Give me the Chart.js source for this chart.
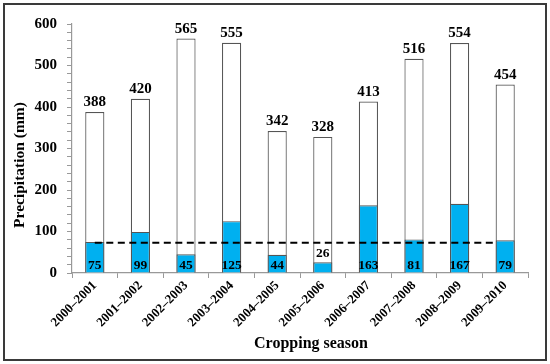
<!DOCTYPE html>
<html>
<head>
<meta charset="utf-8">
<script src="https://cdn.jsdelivr.net/npm/chart.js@4.4.1/dist/chart.umd.min.js"></script>
<style>
  html, body { margin: 0; padding: 0; background: #fff; }
  #wrap { position: relative; width: 550px; height: 364px; }
  #frame { position: absolute; left: 3px; top: 3px; width: 540px; height: 354px; border: 2px solid #3a3a3a; }
  canvas { position: absolute; left: 0; top: 0; }
</style>
</head>
<body>
<div id="wrap">
  <div id="frame"></div>
  <canvas id="chart" width="550" height="364"></canvas>
</div>
<script>
  "use strict";

  const seasons = ["2000\u20132001", "2001\u20132002", "2002\u20132003", "2003\u20132004", "2004\u20132005",
                   "2005\u20132006", "2006\u20132007", "2007\u20132008", "2008\u20132009", "2009\u20132010"];
  const totalRain = [388, 420, 565, 555, 342, 328, 413, 516, 554, 454];
  const seasonRain = [75, 99, 45, 125, 44, 26, 163, 81, 167, 79];
  // dashed reference level, drawn from the first season to the last one
  const thresholdValue = 73;
  const thresholdFrom = 0;
  const thresholdTo = 8.8;

  const FONT = "'Liberation Serif', 'Times New Roman', serif";
  const BLUE = "#00b0f0";

  // value labels: totals above bars, in-season values near the bottom
  const barLabels = {
    id: "barLabels",
    afterDatasetsDraw(chart) {
      const ctx = chart.ctx;
      const yScale = chart.scales.y;
      ctx.save();
      ctx.fillStyle = "#000";
      ctx.textAlign = "center";
      ctx.textBaseline = "alphabetic";

      ctx.font = "bold 15px " + FONT;
      chart.getDatasetMeta(0).data.forEach((bar, i) => {
        ctx.fillText(String(totalRain[i]), bar.x, bar.y - 6);
      });

      ctx.font = "bold 13.5px " + FONT;
      chart.getDatasetMeta(1).data.forEach((bar, i) => {
        const v = seasonRain[i];
        let y = yScale.getPixelForValue(0) - 4;
        if (v < 30) y = bar.y - 5;
        ctx.fillText(String(v), bar.x, y);
      });
      ctx.restore();
    }
  };

  // axis titles placed by hand, as in the source figure
  const axisTitles = {
    id: "axisTitles",
    afterDraw(chart) {
      const ctx = chart.ctx;
      ctx.save();
      ctx.fillStyle = "#000";
      ctx.textAlign = "center";
      ctx.textBaseline = "middle";

      ctx.font = "bold 16px " + FONT;
      ctx.fillText("Cropping season", 311, 344);

      ctx.font = "bold 15.5px " + FONT;
      ctx.translate(20, 165);
      ctx.rotate(-Math.PI / 2);
      ctx.fillText("Precipitation (mm)", 0, 0);
      ctx.restore();
    }
  };

  function init() {
    const canvas = document.getElementById("chart");
    if (!canvas || typeof Chart === "undefined") return;

    new Chart(canvas.getContext("2d"), {
      type: "bar",
      data: {
        labels: seasons,
        datasets: [
          {
            label: "Total",
            data: totalRain,
            xAxisID: "x",
            grouped: false,
            backgroundColor: "#ffffff",
            borderColor: "#555555",
            borderWidth: 1.2,
            barPercentage: 0.42,
            categoryPercentage: 1,
            order: 3
          },
          {
            label: "In season",
            data: seasonRain,
            xAxisID: "x",
            grouped: false,
            backgroundColor: BLUE,
            borderColor: "#555555",
            borderWidth: 1.2,
            barPercentage: 0.42,
            categoryPercentage: 1,
            order: 2
          },
          {
            type: "line",
            label: "Threshold",
            xAxisID: "xLine",
            data: [
              { x: thresholdFrom, y: thresholdValue },
              { x: thresholdTo, y: thresholdValue }
            ],
            borderColor: "#000",
            borderWidth: 2,
            borderDash: [7, 4.5],
            pointRadius: 0,
            fill: false,
            order: 1
          }
        ]
      },
      options: {
        responsive: false,
        animation: false,
        devicePixelRatio: 1,
        layout: { padding: { left: 8, right: 22, top: 24, bottom: 10 } },
        plugins: {
          legend: { display: false },
          tooltip: { enabled: false }
        },
        scales: {
          x: {
            type: "category",
            grid: { display: true, drawOnChartArea: false, drawTicks: true, tickLength: 5, color: "#999", offset: true },
            border: { display: true, color: "#999", width: 1.2 },
            ticks: {
              color: "#000",
              font: { family: FONT, size: 13, weight: "bold" },
              minRotation: 45,
              maxRotation: 45,
              autoSkip: false,
              padding: 0
            },
            afterFit(scale) { scale.height = 81; }
          },
          xLine: {
            type: "linear",
            position: "bottom",
            display: false,
            offset: false,
            min: -0.5,
            max: 9.5
          },
          y: {
            stacked: false,
            min: 0,
            max: 600,
            grid: { display: true, drawOnChartArea: false, drawTicks: true, tickLength: 5, color: "#999" },
            border: { display: true, color: "#999", width: 1.2 },
            ticks: {
              stepSize: 20,
              autoSkip: false,
              color: "#000",
              font: { family: FONT, size: 15, weight: "bold" },
              padding: 10,
              callback: (v) => (v % 100 === 0 ? String(v) : "")
            },
            afterFit(scale) { scale.width = 64; }
          }
        }
      },
      plugins: [barLabels, axisTitles]
    });
  }

  document.addEventListener("DOMContentLoaded", init);
</script>
</body>
</html>
